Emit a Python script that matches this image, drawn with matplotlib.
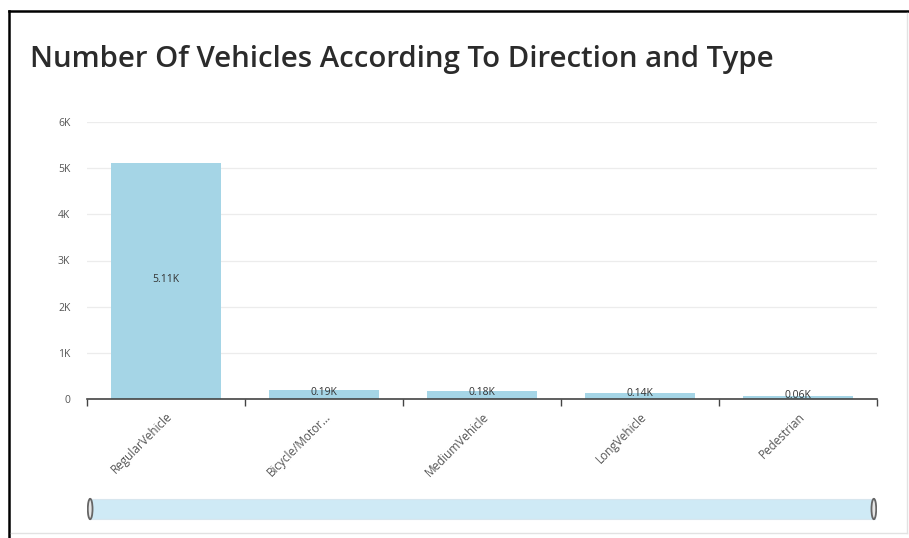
import matplotlib.pyplot as plt
from matplotlib.patches import Rectangle, Ellipse
from matplotlib.lines import Line2D
from matplotlib.ticker import FuncFormatter
import numpy as np


categories = ['RegularVehicle', 'Bicycle/Motor...', 'MediumVehicle', 'LongVehicle', 'Pedestrian']
counts = [5110, 190, 180, 140, 60]
value_labels = ['5.11K', '0.19K', '0.18K', '0.14K', '0.06K']

TITLE = 'Number Of Vehicles According To Direction and Type'
BAR_COLOR = '#a5d5e6'
TEXT_GRAY = '#555555'

plt.rcParams['font.family'] = ['Open Sans', 'DejaVu Sans']

W, H = 909, 538
fig = plt.figure(figsize=(W / 100, H / 100), dpi=100)
fig.patch.set_facecolor('white')


def px(x, y):
    # pixel coords (top-left origin) -> figure fraction
    return x / W, 1 - y / H


# card edges: dark on top/left, light grey on right/bottom
for (x0, y0), (x1, y1), c, lw in [((9, 11), (909, 11), 'black', 1.8),
                                   ((9, 11), (9, 538), 'black', 1.8),
                                   ((907, 13), (907, 533), '#e2e2e2', 1.0),
                                   ((11, 533), (907, 533), '#e2e2e2', 1.0)]:
    a, b = px(x0, y0)
    cc, d = px(x1, y1)
    fig.add_artist(Line2D([a, cc], [b, d], color=c, linewidth=lw,
                          transform=fig.transFigure))

tx, ty = px(30, 60)
fig.text(tx, ty, TITLE, fontsize=21.2, fontweight='semibold',
         color='#2b2b2b', va='center', ha='left')

ax = fig.add_axes([87 / W, 1 - 399 / H, 790 / W, 277 / H])
x = np.arange(len(categories))
ax.bar(x, counts, width=0.69, color=BAR_COLOR, zorder=2)

for xi, v, lab in zip(x, counts, value_labels):
    ax.text(xi, v / 2 + 40, lab, ha='center', va='center', fontsize=7.5,
            color='#333333', zorder=3)

ax.set_xlim(-0.5, len(categories) - 0.5)
ax.set_ylim(0, 6000)
ax.set_yticks(np.arange(0, 6001, 1000))
ax.yaxis.set_major_formatter(FuncFormatter(lambda v, p: '0' if v == 0 else f'{int(v / 1000)}K'))
ax.tick_params(axis='y', length=0, labelsize=7.5, labelcolor=TEXT_GRAY, pad=12)
ax.grid(axis='y', color='#ececec', linewidth=0.9, zorder=0)

ax.set_xticks(x)
ax.set_xticklabels(categories, rotation=45, ha='right', va='top',
                   rotation_mode='anchor', fontsize=8.5, color=TEXT_GRAY)
ax.tick_params(axis='x', which='major', length=0, pad=8)
ax.set_xticks(np.arange(-0.5, len(categories)), minor=True)
ax.tick_params(axis='x', which='minor', length=5, width=1, color='#444444')

for s in ['top', 'right', 'left']:
    ax.spines[s].set_visible(False)
ax.spines['bottom'].set_color('#444444')
ax.spines['bottom'].set_linewidth(1.2)

# scrollbar under the chart
sb = fig.add_axes([87 / W, 1 - 521 / H, 790 / W, 24 / H])
sb.set_xlim(0, 1)
sb.set_ylim(0, 1)
sb.axis('off')
sb.add_patch(Rectangle((0.003, 0.1), 0.994, 0.8, facecolor='#cfeaf6',
                       edgecolor='#d8e6ee', linewidth=0.8))
for hx in (0.004, 0.996):
    sb.add_patch(Ellipse((hx, 0.5), 0.006, 0.85, facecolor='#e6e6e6',
                         edgecolor='#666666', linewidth=1.3))

fig.savefig('out.png', dpi=100)
